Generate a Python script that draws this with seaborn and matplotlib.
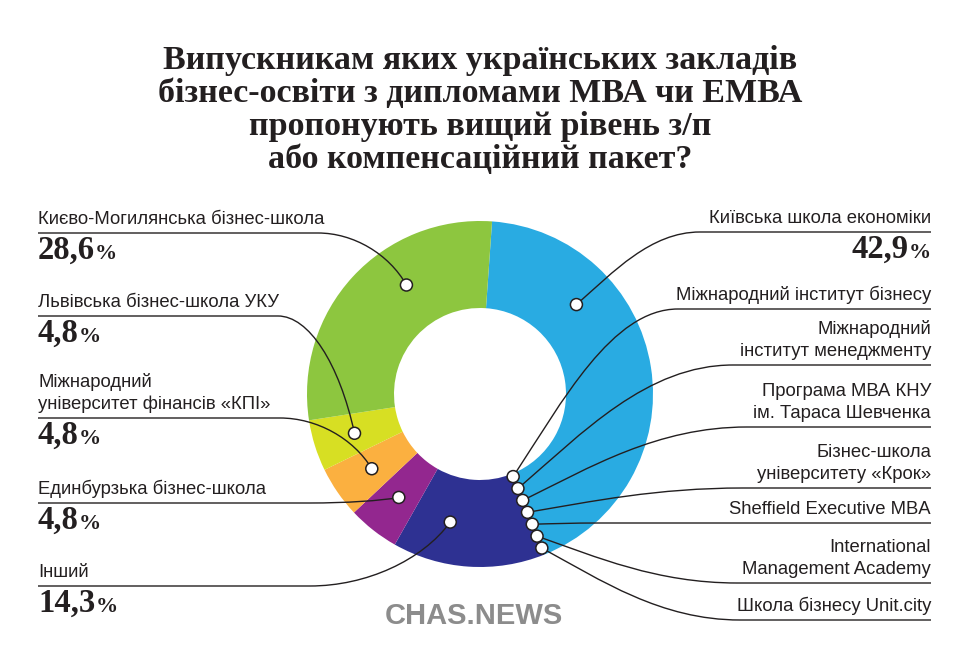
import numpy as np
import seaborn as sns
import matplotlib.pyplot as plt
from matplotlib.path import Path
from matplotlib.patches import PathPatch, Circle

# chart data (clockwise from the top of the ring)
schools = [
    "Київська школа економіки",
    "Міжнародний інститут бізнесу",
    "Міжнародний\nінститут менеджменту",
    "Програма МВА КНУ\nім. Тараса Шевченка",
    "Бізнес-школа\nуніверситету «Крок»",
    "Sheffield Executive MBA",
    "International\nManagement Academy",
    "Школа бізнесу Unit.city",
    "Інший",
    "Единбурзька бізнес-школа",
    "Міжнародний\nуніверситет фінансів «КПІ»",
    "Львівська бізнес-школа УКУ",
    "Києво-Могилянська бізнес-школа",
]
shares = [42.9, 0, 0, 0, 0, 0, 0, 0, 14.3, 4.8, 4.8, 4.8, 28.6]
colors = ["#29abe2", "#29abe2", "#29abe2", "#29abe2", "#29abe2", "#29abe2", "#29abe2", "#29abe2",
          "#2e3192", "#93278f", "#fbb040", "#d7df23", "#8dc63f"]

title_lines = [
    "Випускникам яких українських закладів",
    "бізнес-освіти з дипломами МВА чи ЕМВА",
    "пропонують вищий рівень з/п",
    "або компенсаційний пакет?",
]

# label layout: side, underline y, x where the leader joins the underline, dot position inside slice
side = ["r", "r", "r", "r", "r", "r", "r", "r", "l", "l", "l", "l", "l"]
underline_y = [232, 309, 365, 427, 488, 523, 583, 620, 586, 503, 418, 316, 233]
join_x = [700, 678, 733, 747, 743, 600, 737, 740, 310, 310, 280, 278, 318]
dot_frac = [0.28, 0, 0, 0, 0, 0, 0, 0, 0.68, 0.5, 0.5, 0.5, 0.63]

W, H = 960, 659
cx, cy = 480, 394
r_out, r_in = 173, 86
start = 4  # degrees clockwise from the top
ink = "#231f20"
left_x, right_x = 38, 931

sns.set_theme(style="white")
plt.rcParams["font.family"] = ["Liberation Sans", "DejaVu Sans"]

fig = plt.figure(figsize=(W / 100, H / 100), dpi=100)
ax = fig.add_axes([0, 0, 1, 1])

# donut (y axis is flipped, so counterclock=True turns clockwise on screen)
ax.pie(shares, colors=colors, startangle=start - 90, counterclock=True,
       radius=r_out, center=(cx, cy),
       wedgeprops=dict(width=r_out - r_in, linewidth=0))
ax.set_xlim(0, W)
ax.set_ylim(H, 0)
ax.axis("off")


def leader(x0, y0, x1, y1, x_end, fx, fy):
    # smooth curve from the dot to the underline, then a straight underline
    dx = x1 - x0
    verts = [(x0, y0), (x0 + fx * dx, y0 + fy * (y1 - y0)),
             (x1 - 0.4 * dx, y1), (x1, y1), (x_end, y1)]
    codes = [Path.MOVETO, Path.CURVE4, Path.CURVE4, Path.CURVE4, Path.LINETO]
    ax.add_patch(PathPatch(Path(verts, codes), fill=False, edgecolor=ink, lw=1.0, zorder=3))


# dot positions
total = sum(shares)
edges = start + np.concatenate([[0], np.cumsum(shares)]) / total * 360
n_zero = shares.count(0)
zero_r = np.linspace(r_in + 3, r_out - 7, n_zero)
k = 0
for i, name in enumerate(schools):
    if shares[i] == 0:
        ang, rad = edges[i], zero_r[k]
        k += 1
    else:
        ang = edges[i] + dot_frac[i] * (edges[i + 1] - edges[i])
        rad = (r_out + r_in) / 2 + 2
    t = np.radians(ang - 90)
    xd, yd = cx + rad * np.cos(t), cy + rad * np.sin(t)
    yl = underline_y[i]
    if side[i] == "r":
        leader(xd, yd, join_x[i], yl, right_x, 0.3, 0.45)
    else:
        leader(xd, yd, join_x[i], yl, left_x, 0.2, 0.6)
    ax.add_patch(Circle((xd, yd), 6, facecolor="white", edgecolor=ink, lw=1.1, zorder=4))

    # label text, line by line from the bottom up
    lines = name.split("\n")[::-1]
    for j, line in enumerate(lines):
        if side[i] == "r":
            ax.text(right_x, yl - 9 - 22 * j, line, ha="right", va="baseline",
                    fontsize=13.3, color=ink)
        else:
            ax.text(left_x, yl - 9 - 22 * j, line, ha="left", va="baseline",
                    fontsize=13.3, color=ink)

    # value
    if shares[i] > 0:
        val = f"{shares[i]:.1f}".replace(".", ",")
        if side[i] == "r":
            pct = ax.text(right_x, yl + 26, "%", ha="right", va="baseline", fontsize=16,
                          fontweight="bold", family="Liberation Serif", color=ink)
            ax.annotate(val, xy=(0, yl + 26), xycoords=(pct, "data"), ha="right", va="baseline",
                        fontsize=23.5, fontweight="bold", family="Liberation Serif", color=ink)
        else:
            num = ax.text(left_x, yl + 26, val, ha="left", va="baseline", fontsize=23.5,
                          fontweight="bold", family="Liberation Serif", color=ink)
            ax.annotate("%", xy=(1, yl + 26), xycoords=(num, "data"), ha="left", va="baseline",
                        fontsize=16, fontweight="bold", family="Liberation Serif", color=ink)

# title
for j, line in enumerate(title_lines):
    ax.text(W / 2, 69 + 33 * j, line, ha="center", va="baseline", fontsize=24.5,
            fontweight="bold", family="Liberation Serif", color=ink)

# logo
ax.text(474, 624, "CHAS.NEWS", ha="center", va="baseline", fontsize=21,
        fontweight="bold", color="#8c8c8c")

fig.savefig("out.png", dpi=100, facecolor="white")
